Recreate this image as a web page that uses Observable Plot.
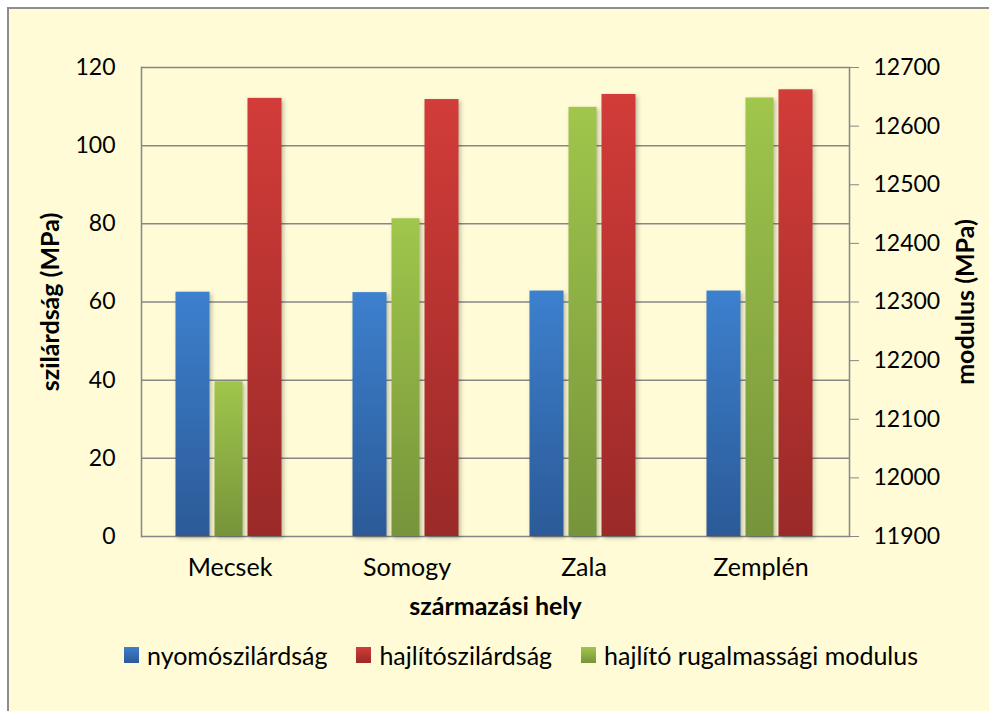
<!DOCTYPE html>
<html><head><meta charset="utf-8">
<script src="https://cdn.jsdelivr.net/npm/d3@7"></script>
<script src="https://cdn.jsdelivr.net/npm/@observablehq/plot@0.6"></script>
<style>
body{margin:0;background:#fff;font-family:Lato,sans-serif;}
#frame{position:absolute;left:7px;top:7px;width:1000px;height:720px;border:2px solid #8d8d8d;background:#FEFBD6;}
#chart{position:absolute;left:0;top:0;}
#legend{position:absolute;left:0;top:630px;width:989px;display:flex;align-items:center;padding-left:124px;box-sizing:border-box;gap:29px;font-size:25px;color:#000;height:50px;}
#legend .it{display:flex;align-items:center;}
#legend .sw{width:15px;height:16px;margin-right:8px;}
g[aria-label$="axis label"]{font-weight:700;font-size:25px;}
.bars{filter:drop-shadow(2px 2px 2px rgba(0,0,0,0.25));}
</style>
</head><body>
<svg width="0" height="0" style="position:absolute">
<defs>
<linearGradient id="gBlue" x1="0" y1="0" x2="0" y2="1"><stop offset="0" stop-color="#3D80CE"/><stop offset="1" stop-color="#2B5A97"/></linearGradient>
<linearGradient id="gRed" x1="0" y1="0" x2="0" y2="1"><stop offset="0" stop-color="#D23C39"/><stop offset="1" stop-color="#9A2A28"/></linearGradient>
<linearGradient id="gGreen" x1="0" y1="0" x2="0" y2="1"><stop offset="0" stop-color="#A0C64C"/><stop offset="1" stop-color="#76943A"/></linearGradient>
</defs></svg>
<div id="frame"></div>
<div id="chart"></div>
<div id="legend"></div>
<script>
const categories = ["Mecsek", "Somogy", "Zala", "Zemplén"];
const nyomoszilardsag = [62.5, 62.4, 62.8, 62.8];
const hajlitoszilardsag = [112.1, 111.8, 113.1, 114.3];
const modulus = [12164, 12442, 12632, 12648];
const leftTicks = [0, 20, 40, 60, 80, 100, 120];
const rightTicks = [11900, 12000, 12100, 12200, 12300, 12400, 12500, 12600, 12700];
const seriesNames = ["nyomószilárdság", "hajlítószilárdság", "hajlító rugalmassági modulus"];
const barOrder = [seriesNames[0], seriesNames[2], seriesNames[1]];
const seriesFills = ["url(#gBlue)", "url(#gRed)", "url(#gGreen)"];
const leftDomain = [0, 120];
const rightDomain = [11900, 12700];

const toLeft = d3.scaleLinear().domain(rightDomain).range(leftDomain);

const rowsBlue = categories.map((c, i) => ({cat: c, s: seriesNames[0], v: nyomoszilardsag[i]}));
const rowsRed = categories.map((c, i) => ({cat: c, s: seriesNames[1], v: hajlitoszilardsag[i]}));
const rowsGreen = categories.map((c, i) => ({cat: c, s: seriesNames[2], v: toLeft(modulus[i])}));

const grid = "#878787";
const chart = Plot.plot({
  width: 989, height: 630,
  marginLeft: 140, marginRight: 140, marginTop: 67, marginBottom: 94,
  style: {background: "transparent", fontFamily: "Lato, sans-serif", fontSize: "23px", color: "#000", overflow: "visible"},
  fx: {domain: categories, padding: 0, label: null},
  x: {domain: barOrder, paddingInner: 0, paddingOuter: 0.98, axis: null},
  y: {domain: leftDomain, axis: null},
  marks: [
    Plot.gridY(leftTicks, {stroke: grid, strokeOpacity: 1, strokeWidth: 1.5}),
    Plot.frame({anchor: "left", facetAnchor: "left", stroke: grid, strokeWidth: 1.5}),
    Plot.frame({anchor: "right", facetAnchor: "right", stroke: grid, strokeWidth: 1.5}),
    Plot.barY(rowsBlue, {fx: "cat", x: "s", y: "v", fill: seriesFills[0], insetLeft: 0.5, insetRight: 0.5, dx: -2, className: "bars"}),
    Plot.barY(rowsGreen, {fx: "cat", x: "s", y: "v", fill: seriesFills[2], insetLeft: 3.5, insetRight: 3.5, dx: -1, className: "bars"}),
    Plot.barY(rowsRed, {fx: "cat", x: "s", y: "v", fill: seriesFills[1], insetLeft: 0.5, insetRight: 0.5, className: "bars"}),
    Plot.axisY({anchor: "left", ticks: leftTicks, tickSize: 0, tickPadding: 26, label: "szilárdság (MPa)", labelAnchor: "center", labelOffset: 100, labelArrow: false}),
    Plot.axisY({anchor: "right", ticks: rightTicks.map(toLeft), tickFormat: d => String(Math.round(toLeft.invert(d))), tickSize: 9, tickPadding: 15, stroke: grid, label: "modulus (MPa)", labelAnchor: "center", labelOffset: 124, labelArrow: false}),
    Plot.axisFx({anchor: "bottom", tickSize: 0, tickPadding: 22, fontSize: 25, label: "származási hely", labelAnchor: "center", labelOffset: 78, labelArrow: false})
  ]
});
document.getElementById("chart").appendChild(chart);

const legend = d3.select("#legend");
seriesNames.forEach((name, i) => {
  const it = legend.append("div").attr("class", "it");
  it.append("div").attr("class", "sw").style("background", ["linear-gradient(#3D80CE,#2B5A97)", "linear-gradient(#D23C39,#9A2A28)", "linear-gradient(#A0C64C,#76943A)"][i]);
  it.append("span").text(name);
});
</script>
</body></html>
